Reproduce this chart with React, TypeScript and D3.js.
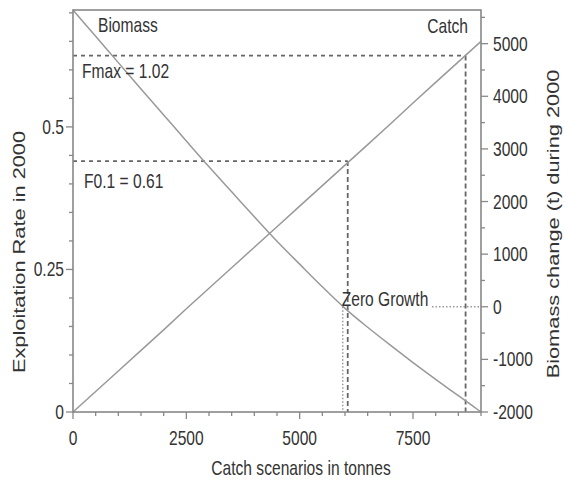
import React from "react";
import * as d3 from "d3";

// ---- data ----
const catchScenarios = [0, 500, 1000, 1500, 2000, 2500, 3000, 3500, 4000, 4500, 5000, 5500, 6000, 6500, 7000, 7500, 8000, 8500, 9000];
const exploitationRate = [0, 0.036, 0.072, 0.108, 0.144, 0.181, 0.217, 0.253, 0.289, 0.325, 0.361, 0.397, 0.433, 0.469, 0.505, 0.542, 0.578, 0.614, 0.65];
const biomassChange = [5640, 5140, 4640, 4140, 3645, 3150, 2660, 2185, 1710, 1245, 810, 380, -30, -390, -730, -1060, -1380, -1690, -2000];

const xTickValues = [0, 2500, 5000, 7500];
const leftTickValues = [0, 0.25, 0.5];
const leftTickLabels = ["0", "0.25", "0.5"];
const rightTickValues = [-2000, -1000, 0, 1000, 2000, 3000, 4000, 5000];

const refLabels = ["Fmax = 1.02", "F0.1 = 0.61"];
const refRates = [0.625, 0.44];
const refCatches = [8660, 6060];
const zeroGrowthCatch = 5950;

const xTitle = "Catch scenarios in tonnes";
const leftTitle = "Exploitation Rate in 2000";
const rightTitle = "Biomass change (t) during 2000";

const FONT = "'Liberation Sans', Arial, Helvetica, sans-serif";
const TXT = "#333";
const AX = "#888";

function HText({ x, y, anchor = "start", size = 20, children }: any) {
  return (
    <text
      transform={`translate(${x},${y}) scale(0.78,1)`}
      textAnchor={anchor}
      fontSize={size}
      fontFamily={FONT}
      fill={TXT}
    >
      {children}
    </text>
  );
}

function VText({ x, y, size = 21.8, children }: any) {
  return (
    <text
      transform={`translate(${x},${y}) rotate(-90) scale(1,0.78)`}
      textAnchor="middle"
      fontSize={size}
      fontFamily={FONT}
      fill={TXT}
    >
      {children}
    </text>
  );
}

export default function App() {
  const L = 73, R = 481, T = 10, B = 412;
  const x = d3.scaleLinear().domain([0, 9000]).range([L, R]);
  const yL = d3.scaleLinear().domain([0, 0.705]).range([B, T]);
  const yR = d3.scaleLinear().domain([-2000, 5640]).range([B, T]);

  const catchLine = d3.line<number>().x((_, i) => x(catchScenarios[i])).y((d) => yL(d));
  const bioLine = d3
    .line<number>()
    .x((_, i) => x(catchScenarios[i]))
    .y((d) => yR(d))
    .curve(d3.curveMonotoneX);

  const xMinor = d3.range(0, 9001, 500);
  const lMinor = d3.range(0, 0.7001, 0.05);
  const rMinor = d3.range(-2000, 5501, 500);

  const y0 = yR(0);

  return (
    <svg
      width={565}
      height={481}
      style={{ position: "absolute", left: 0, top: 0, background: "#fff" }}
    >
      <rect x={0} y={0} width={565} height={481} fill="#fff" />

      {/* reference dashed lines */}
      {refRates.map((r, i) => (
        <g key={"ref" + i}>
          <line x1={L} x2={x(refCatches[i])} y1={yL(r)} y2={yL(r)} stroke="#666" strokeWidth={1.8} strokeDasharray="4,4" />
          <line x1={x(refCatches[i])} x2={x(refCatches[i])} y1={yL(r)} y2={B} stroke="#666" strokeWidth={1.8} strokeDasharray="5,3" />
        </g>
      ))}

      {/* zero growth dotted lines */}
      <line x1={x(zeroGrowthCatch)} x2={x(zeroGrowthCatch)} y1={y0} y2={B} stroke="#999" strokeWidth={1.5} strokeDasharray="1.5,2" />
      <line x1={432} x2={R} y1={y0} y2={y0} stroke="#999" strokeWidth={1.5} strokeDasharray="1.5,2" />

      {/* curves */}
      <path d={catchLine(exploitationRate) || ""} fill="none" stroke="#999" strokeWidth={1.5} />
      <path d={bioLine(biomassChange) || ""} fill="none" stroke="#999" strokeWidth={1.5} />

      {/* frame */}
      <rect x={L} y={T} width={R - L} height={B - T} fill="none" stroke={AX} strokeWidth={1.6} />

      {/* bottom ticks */}
      {xMinor.map((v) => (
        <line key={"xm" + v} x1={x(v)} x2={x(v)} y1={B} y2={B + (v % 2500 === 0 ? 7 : 4)} stroke={AX} strokeWidth={1.3} />
      ))}
      {xTickValues.map((v) => (
        <HText key={"xl" + v} x={x(v)} y={445} anchor="middle">{String(v)}</HText>
      ))}

      {/* left ticks */}
      {lMinor.map((v, i) => (
        <line key={"lm" + i} x1={L} x2={L - (i % 5 === 0 ? 7 : 4)} y1={yL(v)} y2={yL(v)} stroke={AX} strokeWidth={1.3} />
      ))}
      {leftTickValues.map((v, i) => (
        <HText key={"ll" + i} x={64} y={yL(v) + 7} anchor="end">{leftTickLabels[i]}</HText>
      ))}

      {/* right ticks */}
      {rMinor.map((v) => (
        <line key={"rm" + v} x1={R} x2={R + (v % 1000 === 0 ? 7 : 4)} y1={yR(v)} y2={yR(v)} stroke={AX} strokeWidth={1.3} />
      ))}
      {rightTickValues.map((v) => (
        <HText key={"rl" + v} x={493} y={yR(v) + 7} anchor="start">{String(v)}</HText>
      ))}

      {/* annotations */}
      <HText x={98} y={32}>Biomass</HText>
      <HText x={468} y={33} anchor="end">Catch</HText>
      <HText x={82} y={yL(refRates[0]) + 22}>{refLabels[0]}</HText>
      <HText x={84} y={yL(refRates[1]) + 27}>{refLabels[1]}</HText>
      <HText x={x(zeroGrowthCatch) - 1} y={y0 - 1}>Zero Growth</HText>

      {/* axis titles */}
      <HText x={301} y={475} anchor="middle">{xTitle}</HText>
      <VText x={25} y={252}>{leftTitle}</VText>
      <VText x={559} y={224}>{rightTitle}</VText>
    </svg>
  );
}
